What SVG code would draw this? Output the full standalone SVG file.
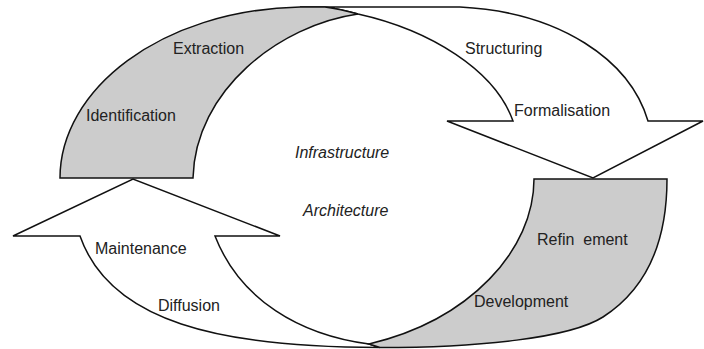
<svg xmlns="http://www.w3.org/2000/svg" width="704" height="349" viewBox="0 0 704 349">
<style>
.sh{stroke:#111;stroke-width:1.5;stroke-linejoin:miter}
.gray{fill:#cccccc}
.white{fill:#ffffff}
text{font-family:"Liberation Sans",Arial,sans-serif;font-size:16px;fill:#222}
.it{font-style:italic}
</style>
<rect width="704" height="349" fill="#fff"/>
<g id="arrow-top">
<path class="sh white" d="M300,7 L460,7 C560,12 630,60 648,121 L703,121 L593,178 L447,121 L513,121 C495,70 430,30 358,14 Q340,9 325,7 Z"/>
<path class="sh gray" d="M60,178 C60,90 160,10 300,7 L325,7 Q340,9 358,14 C280,25 195,90 193,178 Z"/>
</g>
<g id="arrow-bottom">
<path class="sh white" d="M369,344 C300,335 240,300 215,236 L280,236 L133,179 L13,236 L80,236 C110,322 220,347.5 380,347.5 Z"/>
<path class="sh gray" d="M534,179 L667,179 C667,240 648,288 603,317 C570,338 480,347.5 380,347.5 L369,344 C470,320 534,250 534,179 Z"/>
</g>
<g id="connectors"></g>
<g id="labels">
<text x="173" y="54">Extraction</text>
<text x="86" y="121">Identification</text>
<text x="465" y="54">Structuring</text>
<text x="514" y="116">Formalisation</text>
<text class="it" x="295" y="158">Infrastructure</text>
<text class="it" x="303" y="216">Architecture</text>
<text x="95" y="254">Maintenance</text>
<text x="158" y="311">Diffusion</text>
<text x="537" y="245" xml:space="preserve">Refin  ement</text>
<text x="474" y="307">Development</text>
</g>
</svg>
